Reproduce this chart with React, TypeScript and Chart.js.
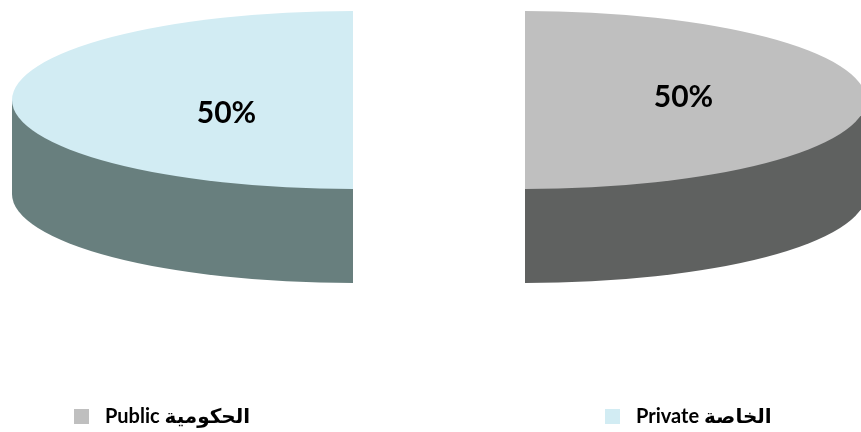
import { useEffect, useRef } from "react";
import { Chart, registerables } from "chart.js";

Chart.register(...registerables);

const categories = ["Public الحكومية", "Private الخاصة"];
const shareValues = [50, 50];
const topColors = ["#BFBFBF", "#D2ECF3"];
const sideColors = ["#5F6160", "#687F7E"];
const percentLabels = ["50%", "50%"];

const fauxPie = {
  id: "fauxPie",
  beforeDatasetDraw(chart: any, _a: any, o: any) {
    const ctx = chart.ctx;
    const arcs = chart.getDatasetMeta(0).data;
    const first = arcs[0];
    const k = o.radiusY / first.outerRadius;
    const dy = o.depth / k;
    ctx.save();
    ctx.translate(o.centerX - first.x, o.centerY);
    ctx.scale(1, k);
    ctx.translate(0, -first.y);
    arcs.forEach((a: any, i: number) => {
      const mid = (a.startAngle + a.endAngle) / 2;
      const cx = a.x + Math.cos(mid) * o.explode;
      const cy = a.y + Math.sin(mid) * o.explode;
      const r = a.outerRadius;
      ctx.fillStyle = sideColors[i];
      ctx.beginPath();
      ctx.moveTo(cx, cy + dy);
      ctx.arc(cx, cy + dy, r, a.startAngle, a.endAngle);
      ctx.closePath();
      ctx.fill();
      ctx.fillRect(Math.cos(mid) > 0 ? cx : cx - r, cy, r, dy);
    });
    arcs.forEach((a: any) => {
      const mid = (a.startAngle + a.endAngle) / 2;
      ctx.save();
      ctx.translate(Math.cos(mid) * o.explode, Math.sin(mid) * o.explode);
      a.draw(ctx);
      ctx.restore();
    });
    ctx.restore();
    return false;
  },
  afterDatasetsDraw(chart: any, _a: any, o: any) {
    const ctx = chart.ctx;
    ctx.save();
    ctx.fillStyle = "#000";
    ctx.textAlign = "center";
    ctx.textBaseline = "middle";
    ctx.font = o.labelFont;
    percentLabels.forEach((t, i) => {
      ctx.fillText(t, o.labelPos[i][0], o.labelPos[i][1]);
    });
    ctx.font = o.legendFont;
    ctx.textAlign = "left";
    chart.data.labels.forEach((t: string, i: number) => {
      const [x, y] = o.legendPos[i];
      ctx.fillStyle = topColors[i];
      ctx.fillRect(x, y - 8, 15, 15);
      ctx.fillStyle = "#000";
      ctx.fillText(t, x + o.legendGap, y);
    });
    ctx.restore();
  },
};

export default function App() {
  const ref = useRef<HTMLCanvasElement>(null);
  useEffect(() => {
    const chart = new Chart(ref.current!, {
      type: "pie",
      data: {
        labels: categories,
        datasets: [
          {
            data: shareValues,
            backgroundColor: topColors,
            borderWidth: 0,
          },
        ],
      },
      options: {
        animation: false,
        responsive: false,
        radius: 341,
        plugins: {
          legend: { display: false },
          tooltip: { enabled: false },
          fauxPie: {
            centerX: 439,
            centerY: 100,
            radiusY: 89,
            depth: 94,
            explode: 86,
            labelFont: "bold 30px Lato",
            labelPos: [[683.5, 97], [226.5, 113]],
            legendFont: "bold 20px Lato, 'DejaVu Sans'",
            legendPos: [[74, 417], [605, 417]],
            legendGap: 31,
          },
        },
      } as any,
      plugins: [fauxPie],
    });
    return () => chart.destroy();
  }, []);
  return (
    <canvas
      ref={ref}
      width={861}
      height={432}
      style={{ position: "absolute", left: 0, top: 0, width: 861, height: 432 }}
    />
  );
}
